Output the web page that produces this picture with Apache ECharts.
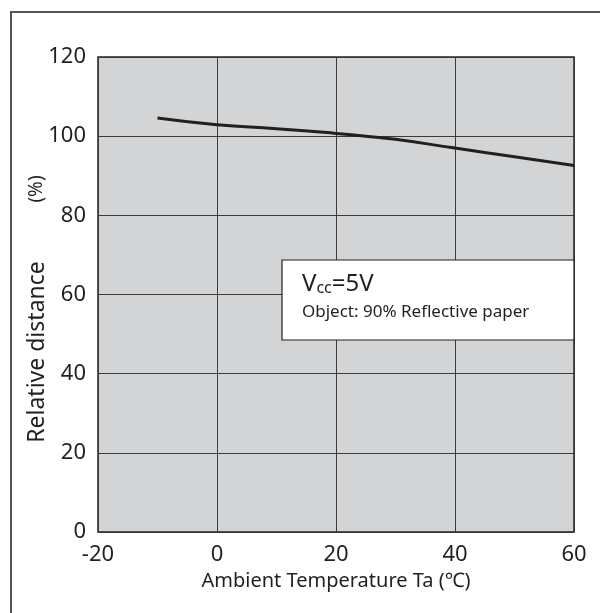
<!DOCTYPE html>
<html>
<head>
<meta charset="utf-8">
<script src="https://cdn.jsdelivr.net/npm/echarts@6/dist/echarts.min.js"></script>
<style>html,body{margin:0;padding:0;background:#fff;}#c{width:610px;height:613px;}</style>
</head>
<body>
<div id="c"></div>
<script>
var temperatures = [-10, 0, 10, 20, 25, 30, 40, 50, 60];
var relativeDistance = [104.6, 102.9, 101.9, 100.7, 100.0, 99.2, 97.0, 94.8, 92.6];
var xTicks = [-20, 0, 20, 40, 60];
var yTicks = [0, 20, 40, 60, 80, 100, 120];

var FONT = 'Noto Sans';
var TXT = '#231f20';

var chart = echarts.init(document.getElementById('c'), null, {renderer: 'canvas'});
chart.setOption({
  animation: false,
  backgroundColor: '#ffffff',
  grid: {
    left: 98, top: 57, right: 36, bottom: 81,
    show: true, backgroundColor: '#d3d4d6', borderColor: TXT, borderWidth: 1.5
  },
  xAxis: {
    type: 'value', min: xTicks[0], max: xTicks[xTicks.length - 1], interval: 20,
    axisLine: {show: false}, axisTick: {show: false},
    axisLabel: {color: TXT, fontSize: 22, fontFamily: FONT, margin: 12},
    splitLine: {show: true, lineStyle: {color: '#3a3a3a', width: 1}}
  },
  yAxis: {
    type: 'value', min: yTicks[0], max: yTicks[yTicks.length - 1], interval: 20,
    axisLine: {show: false}, axisTick: {show: false},
    axisLabel: {color: TXT, fontSize: 22, fontFamily: FONT, margin: 12, padding: [5, 0, 0, 0]},
    splitLine: {show: true, lineStyle: {color: '#3a3a3a', width: 1}}
  },
  series: [{
    type: 'line',
    data: temperatures.map(function (t, i) { return [t, relativeDistance[i]]; }),
    showSymbol: false, smooth: true,
    lineStyle: {color: TXT, width: 3}
  }],
  graphic: [
    {type: 'line', shape: {x1: 10, y1: 12, x2: 600, y2: 12}, style: {stroke: '#555', lineWidth: 2}},
    {type: 'line', shape: {x1: 11, y1: 12, x2: 11, y2: 613}, style: {stroke: '#555', lineWidth: 2}},
    {type: 'text', x: 336, y: 581, style: {text: 'Ambient Temperature Ta (\u2103)', fill: TXT, fontSize: 20, fontFamily: FONT, textAlign: 'center', textVerticalAlign: 'middle'}},
    {type: 'text', x: 37, y: 352, rotation: Math.PI / 2, style: {text: 'Relative distance', fill: TXT, fontSize: 23, fontFamily: FONT, textAlign: 'center', textVerticalAlign: 'middle'}},
    {type: 'text', x: 37, y: 189, rotation: Math.PI / 2, style: {text: '(%)', fill: TXT, fontSize: 19, fontFamily: FONT, textAlign: 'center', textVerticalAlign: 'middle'}},
    {type: 'rect', shape: {x: 282, y: 260, width: 292, height: 80}, style: {fill: '#ffffff', stroke: TXT, lineWidth: 1.2}, z: 100},
    {type: 'text', x: 302, y: 284, z: 101, style: {
      text: '{v|V}{s|cc}{v|=5V}', textVerticalAlign: 'middle',
      rich: {
        v: {fontSize: 24, fontFamily: FONT, fill: TXT, color: TXT},
        s: {fontSize: 16, fontFamily: FONT, fill: TXT, color: TXT, verticalAlign: 'bottom', padding: [9, 0, 0, 0]}
      }
    }},
    {type: 'text', x: 302, y: 312, z: 101, style: {text: 'Object: 90% Reflective paper', fill: TXT, fontSize: 17, fontFamily: FONT, textVerticalAlign: 'middle'}}
  ]
});
</script>
</body>
</html>
